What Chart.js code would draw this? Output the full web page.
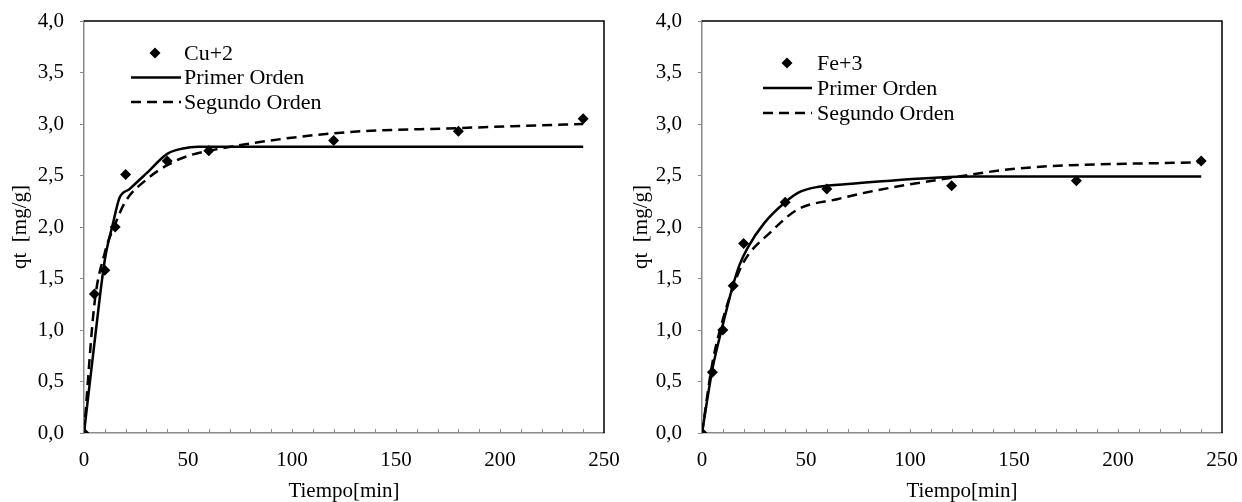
<!DOCTYPE html>
<html>
<head>
<meta charset="utf-8">
<script src="https://cdn.jsdelivr.net/npm/chart.js@4.4.1/dist/chart.umd.min.js"></script>
<style>
html, body { margin: 0; padding: 0; background: #fff; }
#wrap { position: relative; width: 1242px; height: 502px; }
canvas { position: absolute; top: 0; }
</style>
</head>
<body>
<div id="wrap">
<canvas id="chart-cu" width="621" height="502" style="left:0"></canvas>
<canvas id="chart-fe" width="621" height="502" style="left:621px"></canvas>
</div>
<script>
const tCu = [0, 5, 10, 15, 20, 40, 60, 120, 180, 240];
const qCu = [0, 1.35, 1.58, 2.0, 2.51, 2.64, 2.74, 2.84, 2.93, 3.05];
const tCuPrimer = [0, 5, 10, 14, 17, 22, 30, 40, 47, 55, 120, 240];
const qCuPrimer = [0, 0.87, 1.68, 2.04, 2.28, 2.37, 2.52, 2.71, 2.76, 2.78, 2.78, 2.78];
const tCuSegundo = [0, 5, 10, 15, 20, 30, 40, 50, 60, 120, 180, 240];
const qCuSegundo = [0, 1.25, 1.75, 2.03, 2.25, 2.46, 2.6, 2.69, 2.74, 2.91, 2.96, 3.0];

// Fe+3
const tFe = [0, 5, 10, 15, 20, 40, 60, 120, 180, 240];
const qFe = [0, 0.59, 1.0, 1.43, 1.84, 2.24, 2.37, 2.40, 2.45, 2.64];
const tFePrimer = [0, 5, 10, 15, 18, 22, 30, 40, 47, 56, 72, 114, 130, 240];
const qFePrimer = [0, 0.62, 1.05, 1.44, 1.63, 1.8, 2.04, 2.24, 2.34, 2.39, 2.42, 2.48, 2.49, 2.49];
const tFeSegundo = [0, 5, 10, 15, 20, 33, 46, 65, 80, 114, 153, 240];
const qFeSegundo = [0, 0.68, 1.1, 1.42, 1.66, 1.95, 2.17, 2.27, 2.34, 2.46, 2.57, 2.63];

const axisGray = '#8a8a8a';
const tickFont = { family: 'Liberation Serif', size: 21 };

function pts(xs, ys) {
    return xs.map((x, i) => ({ x: x, y: ys[i] }));
}

function buildDatasets(name, t, q, tp, qp, ts, qs) {
    return [
        { label: name, data: pts(t, q), showLine: false, pointStyle: 'rectRot',
          pointRadius: 5.5, backgroundColor: '#000', borderColor: '#000', borderWidth: 0 },
        { label: 'Primer Orden', data: pts(tp, qp), showLine: true, pointRadius: 0,
          borderColor: '#000', borderWidth: 2.5, cubicInterpolationMode: 'monotone' },
        { label: 'Segundo Orden', data: pts(ts, qs), showLine: true, pointRadius: 0,
          borderColor: '#000', borderWidth: 2.5, borderDash: [10, 6], cubicInterpolationMode: 'monotone' }
    ];
}

const frame = {
    id: 'frame',
    beforeDatasetsDraw(chart) {
        const { ctx, chartArea: a, scales } = chart;
        ctx.save();
        ctx.strokeStyle = axisGray;
        ctx.lineWidth = 1;
        ctx.beginPath();
        for (let v = 10; v < 250; v += 10) {
            const px = Math.round(scales.x.getPixelForValue(v)) + 0.5;
            ctx.moveTo(px, a.bottom);
            ctx.lineTo(px, a.bottom - 4);
        }
        ctx.stroke();
        ctx.strokeStyle = '#000';
        ctx.lineWidth = 1.5;
        ctx.beginPath();
        ctx.moveTo(a.left, a.top);
        ctx.lineTo(a.right, a.top);
        ctx.lineTo(a.right, a.bottom);
        ctx.stroke();
        ctx.restore();
    }
};

const legendBox = {
    id: 'legendBox',
    afterDraw(chart, args, o) {
        const ctx = chart.ctx;
        const ds = chart.data.datasets;
        ctx.save();
        ctx.font = '22px "Liberation Serif"';
        ctx.fillStyle = '#000';
        ctx.textBaseline = 'middle';
        for (let i = 0; i < ds.length; i++) {
            const y = o.y + i * o.gap;
            if (i === 0) {
                const r = 5.5, cx = o.marker;
                ctx.beginPath();
                ctx.moveTo(cx, y - r); ctx.lineTo(cx + r, y); ctx.lineTo(cx, y + r); ctx.lineTo(cx - r, y);
                ctx.closePath();
                ctx.fill();
            } else {
                ctx.strokeStyle = '#000';
                ctx.lineWidth = 2.5;
                ctx.setLineDash(ds[i].borderDash || []);
                ctx.beginPath();
                ctx.moveTo(o.lineStart, y);
                ctx.lineTo(o.lineEnd, y);
                ctx.stroke();
                ctx.setLineDash([]);
            }
            ctx.fillText(ds[i].label, o.textX, y + 1);
        }
        ctx.restore();
    }
};

function makeOptions(axisWidth, padRight, leg) {
    return {
        responsive: false,
        animation: false,
        devicePixelRatio: 1,
        layout: { padding: { top: 21, right: padRight, left: 0, bottom: 0 } },
        plugins: {
            legend: { display: false },
            tooltip: { enabled: false },
            legendBox: leg
        },
        scales: {
            x: {
                type: 'linear', min: 0, max: 250,
                ticks: { stepSize: 50, color: '#000', font: tickFont, padding: 15 },
                grid: { display: false, drawTicks: false },
                border: { display: true, color: axisGray, width: 1.5 },
                title: { display: true, text: 'Tiempo[min]', color: '#000',
                         font: { family: 'Liberation Serif', size: 21, lineHeight: 1.0 },
                         padding: { top: 0, bottom: 0 } },
                afterFit: s => { s.height = 69; s.paddingLeft = 0; s.paddingRight = 0; }
            },
            y: {
                type: 'linear', min: 0, max: 4,
                ticks: { stepSize: 0.5, color: '#000', font: tickFont, padding: 16,
                         callback: v => v.toFixed(1).replace('.', ',') },
                grid: { drawOnChartArea: false, drawTicks: true, tickLength: 4, color: axisGray, lineWidth: 1 },
                border: { display: true, color: axisGray, width: 1.5 },
                title: { display: true, text: 'qt  [mg/g]', color: '#000', font: tickFont, padding: { top: 8, bottom: 0 } },
                afterFit: s => { s.width = axisWidth; s.paddingTop = 0; s.paddingBottom = 0; }
            }
        }
    };
}

new Chart(document.getElementById('chart-cu'), {
    type: 'scatter',
    data: { datasets: buildDatasets('Cu+2', tCu, qCu, tCuPrimer, qCuPrimer, tCuSegundo, qCuSegundo) },
    options: makeOptions(84, 17, { y: 53, gap: 24.5, marker: 155, lineStart: 131, lineEnd: 181, textX: 184 }),
    plugins: [frame, legendBox]
});

new Chart(document.getElementById('chart-fe'), {
    type: 'scatter',
    data: { datasets: buildDatasets('Fe+3', tFe, qFe, tFePrimer, qFePrimer, tFeSegundo, qFeSegundo) },
    options: makeOptions(81, 20, { y: 63, gap: 25, marker: 166, lineStart: 142, lineEnd: 191, textX: 196 }),
    plugins: [frame, legendBox]
});
</script>
</body>
</html>
